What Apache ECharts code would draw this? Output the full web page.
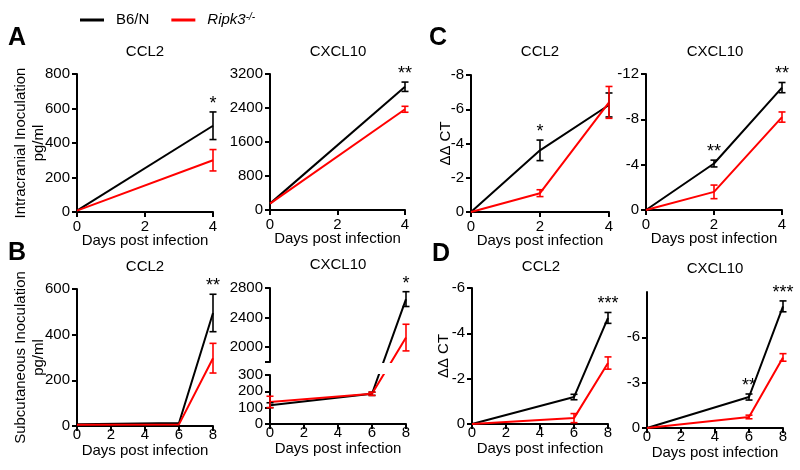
<!DOCTYPE html>
<html><head><meta charset="utf-8">
<script src="https://cdn.jsdelivr.net/npm/echarts@6/dist/echarts.min.js"></script>
<style>html,body{margin:0;padding:0;background:#fff}#c{width:800px;height:470px}</style>
</head><body><div id="c"></div>
<script>
// ---------------- data ----------------
const daysA = [0, 4];
const daysC = [0, 2, 4];
const daysBD = [0, 6, 8];
const seriesNames = ['B6/N', 'Ripk3-/-'];

// A: intracranial, serum pg/ml
const aCcl2B6 = [8, 500];
const aCcl2B6Err = [0, 80];
const aCcl2Rip = [8, 300];
const aCcl2RipErr = [0, 62];
const aCcl2Sig = ['', '*'];

const aCxcl10B6 = [150, 2900];
const aCxcl10B6Err = [0, 110];
const aCxcl10Rip = [150, 2370];
const aCxcl10RipErr = [0, 70];
const aCxcl10Sig = ['', '**'];

// C: intracranial, ΔΔCT
const cCcl2B6 = [0, -3.6, -6.25];
const cCcl2B6Err = [0, 0.6, 0.7];
const cCcl2Rip = [0, -1.1, -6.4];
const cCcl2RipErr = [0, 0.2, 0.93];
const cCcl2Sig = ['', '*', ''];

const cCxcl10B6 = [0, -4.1, -10.8];
const cCxcl10B6Err = [0, 0.3, 0.45];
const cCxcl10Rip = [0, -1.6, -8.2];
const cCxcl10RipErr = [0, 0.6, 0.45];
const cCxcl10Sig = ['', '**', '**'];

// B: subcutaneous, serum pg/ml
const bCcl2B6 = [8, 13, 495];
const bCcl2B6Err = [0, 0, 82];
const bCcl2Rip = [5, 7, 297];
const bCcl2RipErr = [0, 0, 65];
const bCcl2Sig = ['', '', '**'];

const bCxcl10B6 = [115, 185, 2650];
const bCxcl10B6Err = [15, 10, 100];
const bCxcl10Rip = [135, 185, 2130];
const bCxcl10RipErr = [35, 10, 180];
const bCxcl10Sig = ['', '', '*'];
const bCxcl10HighTicks = [2000, 2400, 2800];
const bCxcl10BreakLo = 300;
const bCxcl10BreakHi = 1800;
const bCxcl10Top = 2800;

// D: subcutaneous, ΔΔCT
const dCcl2B6 = [0, -1.19, -4.68];
const dCcl2B6Err = [0, 0.12, 0.24];
const dCcl2Rip = [0, -0.26, -2.69];
const dCcl2RipErr = [0, 0.2, 0.27];
const dCcl2Sig = ['', '', '***'];

const dCxcl10B6 = [0, -2.05, -8.05];
const dCxcl10B6Err = [0, 0.2, 0.36];
const dCxcl10Rip = [0, -0.73, -4.67];
const dCxcl10RipErr = [0, 0.12, 0.25];
const dCxcl10Sig = ['', '**', '***'];
const dCxcl10Ticks = [0, -3, -6];

// ---------------- styling / layout ----------------
const FONT = '"Liberation Sans", Arial, Helvetica, sans-serif';
const BLACK = '#000000';
const RED = '#ff0000';

// broken axis for B CXCL10: lower segment in data units, upper segment compressed
const GAP_UNITS = 80;
const HIGH_K = 0.453;
function tB(v) { return v <= bCxcl10BreakLo ? v : bCxcl10BreakLo + GAP_UNITS + (v - bCxcl10BreakHi) * HIGH_K; }
function invB(t) { return t <= bCxcl10BreakLo ? t : (t - bCxcl10BreakLo - GAP_UNITS) / HIGH_K + bCxcl10BreakHi; }

const grids = [
  {left: 77,  top: 74,  width: 136, height: 138}, // 0 A CCL2
  {left: 270, top: 74,  width: 135, height: 136}, // 1 A CXCL10
  {left: 471, top: 75,  width: 138, height: 137}, // 2 C CCL2
  {left: 646, top: 74,  width: 136, height: 136}, // 3 C CXCL10
  {left: 77,  top: 289, width: 136, height: 137}, // 4 B CCL2
  {left: 270, top: 288, width: 136, height: 74},  // 5 B CXCL10 upper
  {left: 270, top: 375, width: 136, height: 49},  // 6 B CXCL10 lower
  {left: 472, top: 288, width: 136, height: 136}, // 7 D CCL2
  {left: 647, top: 292, width: 136, height: 136}  // 8 D CXCL10
].map(g => Object.assign({outerBoundsMode: 'none', containLabel: false}, g));

const axisLineStyle = {show: true, onZero: false, lineStyle: {color: BLACK, width: 2}};
const tickStyle = {show: true, length: 5, inside: false, lineStyle: {color: BLACK, width: 2}};
const labelFont = {color: BLACK, fontSize: 15, fontFamily: FONT, formatter: v => String(v)};

function xAx(gi, max, bottomRow, show) {
  return {
    type: 'value', gridIndex: gi, min: 0, max: max, interval: 2, show: show !== false,
    axisLine: axisLineStyle, axisTick: tickStyle,
    axisLabel: Object.assign({margin: bottomRow ? 1 : 7}, labelFont),
    splitLine: {show: false},
    name: 'Days post infection', nameLocation: 'middle', nameGap: bottomRow ? 17 : 21,
    nameMoveOverlap: false,
    nameTextStyle: {color: BLACK, fontSize: 15, fontFamily: FONT}
  };
}
function yAx(gi, min, max, interval, inverse, name, nameGap, extra) {
  const a = {
    type: 'value', gridIndex: gi, min: min, max: max, inverse: !!inverse,
    axisLine: axisLineStyle, axisTick: Object.assign({}, tickStyle),
    axisLabel: Object.assign({margin: 7}, labelFont),
    splitLine: {show: false},
    name: name || '', nameLocation: 'middle', nameGap: nameGap || 20, nameRotate: 90,
    nameMoveOverlap: false,
    nameTextStyle: {color: BLACK, fontSize: 15, fontFamily: FONT, lineHeight: 18, align: 'center'}
  };
  if (interval != null) a.interval = interval;
  if (extra) {
    if (extra.label) Object.assign(a.axisLabel, extra.label);
    if (extra.tick) Object.assign(a.axisTick, extra.tick);
  }
  return a;
}

const xAxes = [
  xAx(0, 4, false), xAx(1, 4, false), xAx(2, 4, false), xAx(3, 4, false),
  xAx(4, 8, true), xAx(5, 8, true, false), xAx(6, 8, true), xAx(7, 8, true), xAx(8, 8, true)
];
const yAxes = [
  yAx(0, 0, 800, 200, false, 'Intracranial Inoculation\npg/ml', 29),
  yAx(1, 0, 3200, 800, false),
  yAx(2, -8, 0, 2, true, 'ΔΔ CT', 16),
  yAx(3, -12, 0, 4, true),
  yAx(4, 0, 600, 200, false, 'Subcutaneous Inoculation\npg/ml', 29),
  yAx(5, tB(bCxcl10BreakHi), tB(bCxcl10Top), null, false, '', 0, {
    label: {customValues: bCxcl10HighTicks.map(tB), formatter: v => String(Math.round(invB(v)))},
    tick: {customValues: [bCxcl10BreakHi].concat(bCxcl10HighTicks).map(tB)}
  }),
  yAx(6, 0, 300, 100, false),
  yAx(7, -6, 0, 2, true, 'ΔΔ CT', 19),
  yAx(8, -9, 0, 3, true, '', 0, {
    label: {customValues: dCxcl10Ticks}, tick: {customValues: dCxcl10Ticks}
  })
];

const series = [];
function lineSeries(gi, xs, vals, color, name, tf) {
  return {
    type: 'line', name: name, xAxisIndex: gi, yAxisIndex: gi,
    data: xs.map((x, i) => [x, tf(vals[i])]),
    symbol: 'none', color: color, clip: true,
    lineStyle: {color: color, width: 2}, emphasis: {disabled: true}, z: 3
  };
}
function errSeries(gi, xs, vals, errs, color, sig, tf, keep) {
  return {
    type: 'custom', xAxisIndex: gi, yAxisIndex: gi, z: 4,
    data: xs.map((x, i) => [x, tf(vals[i])]),
    encode: {x: 0, y: 1},
    renderItem: function (params, api) {
      const i = params.dataIndex;
      const x = xs[i], y = vals[i], e = errs[i];
      const children = [];
      if (!keep(y)) return {type: 'group', children: children};
      const p1 = api.coord([x, tf(y + e)]);
      const p2 = api.coord([x, tf(y - e)]);
      const top = Math.min(p1[1], p2[1]);
      const cx = p1[0];
      const st = {stroke: color, lineWidth: 1.6};
      if (e > 0) {
        children.push({type: 'line', shape: {x1: cx, y1: p1[1], x2: cx, y2: p2[1]}, style: st});
        children.push({type: 'line', shape: {x1: cx - 3.5, y1: p1[1], x2: cx + 3.5, y2: p1[1]}, style: st});
        children.push({type: 'line', shape: {x1: cx - 3.5, y1: p2[1], x2: cx + 3.5, y2: p2[1]}, style: st});
      }
      if (sig && sig[i]) {
        children.push({type: 'text', x: cx, y: top + 1,
          style: {text: sig[i], textAlign: 'center', textVerticalAlign: 'bottom', verticalAlign: 'bottom',
                  fill: BLACK, font: '18px ' + FONT}});
      }
      return {type: 'group', children: children};
    }
  };
}
function addPanel(gi, xs, b6, b6e, rip, ripe, sig, tf, keep) {
  tf = tf || (v => v);
  keep = keep || (() => true);
  series.push(lineSeries(gi, xs, b6, BLACK, seriesNames[0], tf));
  series.push(lineSeries(gi, xs, rip, RED, seriesNames[1], tf));
  series.push(errSeries(gi, xs, b6, b6e, BLACK, sig, tf, keep));
  series.push(errSeries(gi, xs, rip, ripe, RED, null, tf, keep));
}

addPanel(0, daysA, aCcl2B6, aCcl2B6Err, aCcl2Rip, aCcl2RipErr, aCcl2Sig);
addPanel(1, daysA, aCxcl10B6, aCxcl10B6Err, aCxcl10Rip, aCxcl10RipErr, aCxcl10Sig);
addPanel(2, daysC, cCcl2B6, cCcl2B6Err, cCcl2Rip, cCcl2RipErr, cCcl2Sig);
addPanel(3, daysC, cCxcl10B6, cCxcl10B6Err, cCxcl10Rip, cCxcl10RipErr, cCxcl10Sig);
addPanel(4, daysBD, bCcl2B6, bCcl2B6Err, bCcl2Rip, bCcl2RipErr, bCcl2Sig);
addPanel(5, daysBD, bCxcl10B6, bCxcl10B6Err, bCxcl10Rip, bCxcl10RipErr, bCxcl10Sig, tB, v => v >= bCxcl10BreakHi);
addPanel(6, daysBD, bCxcl10B6, bCxcl10B6Err, bCxcl10Rip, bCxcl10RipErr, bCxcl10Sig, tB, v => v <= bCxcl10BreakLo);
addPanel(7, daysBD, dCcl2B6, dCcl2B6Err, dCcl2Rip, dCcl2RipErr, dCcl2Sig);
addPanel(8, daysBD, dCxcl10B6, dCxcl10B6Err, dCxcl10Rip, dCxcl10RipErr, dCxcl10Sig);

function txt(s, x, y, size, bold) {
  return {type: 'text', x: x, y: y, silent: true,
    style: {text: s, textAlign: 'center', textVerticalAlign: 'middle', verticalAlign: 'middle',
            fill: BLACK, font: (bold ? 'bold ' : '') + size + 'px ' + FONT}};
}
const graphics = [
  txt('A', 17, 38, 25, true), txt('B', 17, 253, 25, true),
  txt('C', 438, 38, 25, true), txt('D', 441, 254, 25, true),
  txt('CCL2', 145, 52, 15), txt('CXCL10', 338, 52, 15),
  txt('CCL2', 540, 52, 15), txt('CXCL10', 715, 52, 15),
  txt('CCL2', 145, 267, 15), txt('CXCL10', 338, 265, 15),
  txt('CCL2', 541, 267, 15), txt('CXCL10', 715, 269, 15)
];

const chart = echarts.init(document.getElementById('c'), null, {renderer: 'canvas'});
chart.setOption({
  animation: false,
  backgroundColor: '#ffffff',
  textStyle: {fontFamily: FONT, color: BLACK},
  legend: {
    data: seriesNames, left: 75, top: 7, icon: 'rect', itemWidth: 24, itemHeight: 3, itemGap: 22,
    selectedMode: false,
    textStyle: {color: BLACK, fontSize: 15, fontFamily: FONT, padding: [0, 0, 0, 7],
      rich: {
        it: {fontStyle: 'italic', fontSize: 15, fontFamily: FONT, color: BLACK},
        sup: {fontStyle: 'italic', fontSize: 10, fontFamily: FONT, color: BLACK, verticalAlign: 'top', padding: [0, 0, 6, 0]}
      }},
    formatter: n => n === seriesNames[1] ? '{it|Ripk3}{sup|-/-}' : n
  },
  grid: grids,
  xAxis: xAxes,
  yAxis: yAxes,
  series: series,
  graphic: graphics
});
</script></body></html>
